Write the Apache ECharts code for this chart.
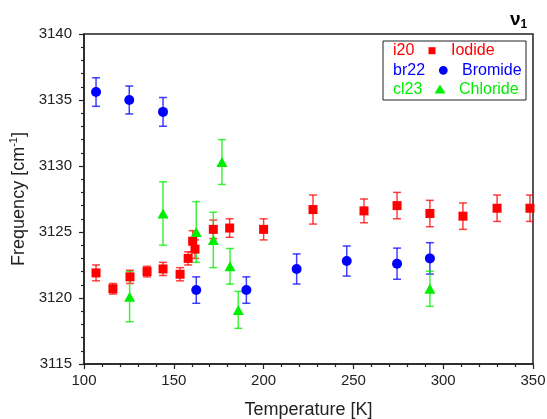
<!DOCTYPE html>
<html>
<head>
<meta charset="utf-8">
<script src="https://cdn.jsdelivr.net/npm/echarts@6/dist/echarts.min.js"></script>
<style>html,body{margin:0;padding:0;background:#fff}#c{width:547px;height:419px}</style>
</head>
<body>
<div id="c"></div>
<script>
// Iodide (i20)
const tempI = [106.7, 116.1, 125.6, 135.1, 144.0, 153.5, 158.0, 160.5, 161.8, 172.0, 181.1, 200.0, 227.5, 255.9, 274.3, 292.6, 311.0, 330.0, 348.3];
const freqI = [3121.9, 3120.7, 3121.6, 3122.0, 3122.2, 3121.8, 3123.0, 3124.3, 3123.7, 3125.2, 3125.3, 3125.2, 3126.7, 3126.6, 3127.0, 3126.4, 3126.2, 3126.8, 3126.8];
const errI  = [0.6, 0.4, 0.5, 0.4, 0.5, 0.5, 0.5, 0.8, 0.7, 0.7, 0.7, 0.8, 1.1, 0.9, 1.0, 1.0, 1.0, 1.0, 1.0];
// Bromide (br22)
const tempB = [106.7, 125.2, 144.0, 162.5, 190.4, 218.4, 246.3, 274.3, 292.6];
const freqB = [3135.6, 3135.0, 3134.1, 3120.6, 3120.6, 3122.2, 3122.8, 3122.6, 3123.0];
const errB  = [1.08, 1.06, 1.09, 1.0, 1.0, 1.14, 1.14, 1.18, 1.19];
// Chloride (cl23)
const tempC = [125.4, 144.0, 162.5, 172.0, 176.8, 181.3, 185.9, 292.6];
const freqC = [3120.1, 3126.4, 3125.0, 3124.4, 3130.3, 3122.4, 3119.1, 3120.7];
const errC  = [1.9, 2.4, 2.3, 2.1, 1.7, 1.35, 1.4, 1.33];

const xTicks = [100, 150, 200, 250, 300, 350];
const yTicks = [3115, 3120, 3125, 3130, 3135, 3140];

const RED = '#ff0000', BLUE = '#0000ff', GREEN = '#00ee00';
const FONT = 'Liberation Sans, Arial, sans-serif';

function zip(t, f) { return t.map((v, i) => [v, f[i]]); }
function zip3(t, f, e) { return t.map((v, i) => [v, f[i], e[i]]); }

function errSeries(data, color) {
  return {
    type: 'custom',
    data: data,
    z: 1,
    silent: true,
    renderItem: function (params, api) {
      const x = api.value(0), y = api.value(1), e = api.value(2);
      const hi = api.coord([x, y + e]);
      const lo = api.coord([x, y - e]);
      const w = 4;
      const st = { stroke: color, lineWidth: 1.5, opacity: 0.75 };
      return {
        type: 'group',
        children: [
          { type: 'line', shape: { x1: hi[0], y1: hi[1], x2: lo[0], y2: lo[1] }, style: st },
          { type: 'line', shape: { x1: hi[0] - w, y1: hi[1], x2: hi[0] + w, y2: hi[1] }, style: st },
          { type: 'line', shape: { x1: lo[0] - w, y1: lo[1], x2: lo[0] + w, y2: lo[1] }, style: st }
        ]
      };
    },
    encode: { x: 0, y: 1 }
  };
}

const chart = echarts.init(document.getElementById('c'), null, { renderer: 'canvas' });
const axisCommon = {
  axisLine: { show: true, lineStyle: { color: '#222', width: 1.5 } },
  axisTick: { show: true, inside: false, length: 5, lineStyle: { color: '#222', width: 1.2 } },
  minorTick: { show: true, splitNumber: 5, length: 3, lineStyle: { color: '#222', width: 1.2 } },
  splitLine: { show: false },
  axisLabel: { color: '#222', fontFamily: FONT, fontSize: 15, formatter: v => String(v) }
};

chart.setOption({
  animation: false,
  backgroundColor: '#fff',
  grid: { left: 84, right: 14, top: 34, bottom: 55, containLabel: false, outerBoundsMode: 'none',
          show: true, borderColor: '#222', borderWidth: 1.5, backgroundColor: 'transparent' },
  xAxis: Object.assign({}, axisCommon, {
    type: 'value', min: xTicks[0], max: xTicks[xTicks.length - 1], interval: 50,
    name: 'Temperature [K]', nameLocation: 'middle', nameGap: 37,
    nameTextStyle: { fontFamily: FONT, fontSize: 18, color: '#222' },
    axisLabel: Object.assign({}, axisCommon.axisLabel, { margin: 9 })
  }),
  yAxis: Object.assign({}, axisCommon, {
    type: 'value', min: yTicks[0], max: yTicks[yTicks.length - 1], interval: 5,
    name: 'Frequency [cm{sup|-1}]', nameLocation: 'middle', nameGap: 41,
    nameTextStyle: { fontFamily: FONT, fontSize: 18, color: '#222',
      rich: { sup: { fontSize: 11, verticalAlign: 'top', padding: [0, 0, 9, 0], fontFamily: FONT, color: '#222' } } },
    axisLabel: Object.assign({}, axisCommon.axisLabel, { margin: 12 })
  }),
  graphic: [
    { type: 'text', left: 510, top: 10, style: { rich: {
        a: { fontSize: 19, fontWeight: 'bold', fontFamily: FONT, fill: '#000' },
        b: { fontSize: 12, fontWeight: 'bold', fontFamily: FONT, fill: '#000', padding: [10, 0, 0, 0] } },
        text: '{a|ν}{b|1}', fontSize: 19, fontWeight: 'bold', fontFamily: FONT, fill: '#000' } },
    { type: 'rect', shape: { x: 383, y: 41, width: 143, height: 59 }, style: { fill: '#fff', stroke: '#222', lineWidth: 1 }, z: 10 },
    { type: 'text', x: 393, y: 51, z: 11, style: { text: 'i20', fill: RED, fontSize: 16, fontFamily: FONT, verticalAlign: 'middle' } },
    { type: 'text', x: 393, y: 70.5, z: 11, style: { text: 'br22', fill: BLUE, fontSize: 16, fontFamily: FONT, verticalAlign: 'middle' } },
    { type: 'text', x: 393, y: 89.5, z: 11, style: { text: 'cl23', fill: GREEN, fontSize: 16, fontFamily: FONT, verticalAlign: 'middle' } },
    { type: 'rect', z: 11, shape: { x: 428.5, y: 47.2, width: 7, height: 7 }, style: { fill: RED } },
    { type: 'circle', z: 11, shape: { cx: 443.3, cy: 70.3, r: 4.4 }, style: { fill: BLUE } },
    { type: 'polygon', z: 11, shape: { points: [[440, 84.5], [445.5, 93.5], [434.5, 93.5]] }, style: { fill: GREEN } },
    { type: 'text', x: 451, y: 51, z: 11, style: { text: 'Iodide', fill: RED, fontSize: 16, fontFamily: FONT, verticalAlign: 'middle' } },
    { type: 'text', x: 462, y: 70.5, z: 11, style: { text: 'Bromide', fill: BLUE, fontSize: 16, fontFamily: FONT, verticalAlign: 'middle' } },
    { type: 'text', x: 459, y: 89.5, z: 11, style: { text: 'Chloride', fill: GREEN, fontSize: 16, fontFamily: FONT, verticalAlign: 'middle' } }
  ],
  series: [
    errSeries(zip3(tempI, freqI, errI), RED),
    errSeries(zip3(tempB, freqB, errB), BLUE),
    errSeries(zip3(tempC, freqC, errC), GREEN),
    { type: 'scatter', name: 'Iodide', data: zip(tempI, freqI), symbol: 'rect', symbolSize: 9, itemStyle: { color: RED, opacity: 1 }, z: 3 },
    { type: 'scatter', name: 'Bromide', data: zip(tempB, freqB), symbol: 'circle', symbolSize: 10, itemStyle: { color: BLUE, opacity: 1 }, z: 3 },
    { type: 'scatter', name: 'Chloride', data: zip(tempC, freqC), symbol: 'triangle', symbolSize: [11, 10], itemStyle: { color: GREEN, opacity: 1 }, z: 3 }
  ]
});
</script>
</body>
</html>
